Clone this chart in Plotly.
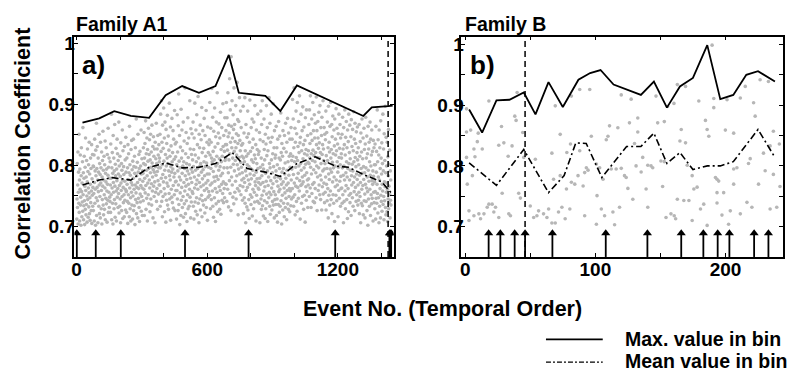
import numpy as np
import plotly.graph_objects as go

# ---------------- Family A1 ----------------
# correlation coefficient x1000 for each event, one row per bin of 76 events
A1_CC_ROWS = [
    "712 745 803 731 768 822 704 756 789 738 851 723 776 709 794 761 817 735 748 702 783 829 757 716 771 740 806 725 862 752 788 711 734 779 815 742 703 766 797 728 845 759 719 781 736 808 750 707 773 827 744 790 715 763 801 732 755 838 721 786 747 710 769 812 739 795 726 758 834 705 778 751 818 733 764 799",
    "726 798 754 817 709 772 843 738 791 761 702 825 783 747 869 718 795 764 831 742 776 706 812 757 789 733 851 768 721 803 749 785 714 838 771 796 729 759 822 704 781 744 808 766 856 735 792 719 776 815 752 728 801 763 840 711 787 746 773 829 737 794 758 707 818 769 743 784 861 723 797 756 812 731 779 748",
    "741 806 768 723 835 779 752 884 711 796 763 821 738 787 704 849 772 756 812 729 791 744 867 766 715 802 783 737 828 758 709 794 775 843 748 819 762 731 808 786 754 871 722 799 767 733 815 745 782 706 837 771 759 803 726 792 749 858 776 713 824 764 739 798 785 752 716 831 774 743 809 761 727 846 789 757",
    "758 723 812 769 741 796 705 834 777 752 819 738 788 716 864 763 801 729 784 747 709 826 772 756 841 735 793 768 712 807 750 779 843 726 798 761 734 815 787 703 768 829 744 797 755 876 721 783 764 739 805 772 714 851 789 746 762 818 731 795 708 777 823 753 740 799 767 858 725 786 749 811 763 718 791 774",
    "787 742 829 803 761 854 718 812 779 836 755 801 873 767 728 819 792 746 845 783 709 826 771 807 752 861 795 737 818 776 842 763 724 809 788 851 745 797 822 770 735 866 804 758 781 831 714 793 847 766 815 749 789 827 773 706 838 798 756 811 784 869 741 803 762 827 790 728 849 775 817 753 796 834 768 806",
    "812 768 851 733 796 884 757 823 779 906 741 838 801 716 866 785 749 828 773 894 807 762 845 724 792 871 753 818 780 707 859 799 743 836 771 812 882 735 803 766 848 728 791 825 754 902 783 745 815 776 863 710 798 832 761 789 748 877 806 739 821 794 857 767 730 843 781 810 752 890 787 726 835 773 814 759",
    "774 838 712 801 759 883 745 822 791 726 865 768 917 736 807 781 849 703 796 755 830 776 718 892 743 812 764 858 787 731 824 799 749 871 715 806 772 840 737 795 758 927 783 721 819 766 854 742 803 777 708 836 791 752 878 729 813 769 845 786 733 801 761 906 748 827 779 714 860 794 740 818 772 852 757 789",
    "809 754 871 733 798 826 712 845 781 763 902 740 817 792 725 858 769 806 747 883 776 719 834 795 761 913 738 812 784 706 851 772 829 745 799 866 727 803 765 842 789 751 895 716 821 778 742 857 793 768 735 828 806 877 759 783 722 849 798 744 815 771 890 731 804 762 838 786 710 863 775 748 821 797 757 834",
    "786 842 751 903 817 768 729 861 795 838 744 812 926 771 806 758 879 733 823 790 715 856 781 809 747 894 774 830 762 708 847 799 737 871 782 815 756 919 803 724 836 777 853 741 792 868 765 811 728 845 798 759 887 783 720 826 806 769 862 743 815 787 754 901 831 773 739 849 796 762 823 747 878 808 770 834",
    "812 857 769 903 834 741 878 796 825 761 919 847 788 732 866 809 853 775 942 819 754 891 838 797 726 978 864 781 829 906 768 845 812 748 883 802 859 737 927 823 791 867 756 839 808 774 898 829 745 852 817 783 936 801 762 875 836 719 849 794 872 813 758 911 786 841 767 824 889 805 752 862 797 833 776 815",
    "788 743 836 765 897 721 812 779 853 747 806 772 911 738 824 791 706 867 759 815 783 732 846 801 764 889 727 819 776 852 744 798 713 838 769 907 786 752 823 795 736 862 778 809 748 876 717 829 792 761 843 805 729 871 784 756 817 740 898 773 811 767 834 709 789 858 751 803 778 826 741 884 795 763 818 772",
    "761 823 738 854 779 706 842 797 769 889 745 812 728 867 783 751 906 734 801 772 839 717 794 758 876 826 742 809 765 713 851 787 729 835 774 898 753 816 739 862 791 708 824 767 845 781 747 911 756 803 733 869 796 720 838 775 752 884 809 763 727 846 788 741 819 770 901 735 798 757 829 714 857 780 744 812",
    "752 817 736 791 864 718 774 829 745 801 707 843 766 781 736 872 757 812 723 795 848 761 733 809 778 886 742 821 769 704 836 789 751 815 727 857 773 795 738 828 763 716 849 786 755 804 731 869 779 746 822 768 711 838 792 759 877 737 806 771 728 853 784 749 815 762 724 843 797 758 819 734 862 776 745 808",
    "794 843 762 908 815 748 876 785 733 829 927 771 806 752 861 719 838 797 766 889 813 741 852 779 725 903 808 764 831 787 746 872 799 821 758 914 775 837 712 846 803 767 884 792 738 824 769 857 781 749 896 811 773 834 728 863 796 751 819 784 841 707 878 802 765 826 743 891 788 757 817 776 849 731 805 768",
    "824 778 867 803 749 891 812 836 763 914 797 852 731 819 786 876 754 841 808 769 903 825 741 857 793 816 772 883 739 845 806 762 869 821 788 747 912 834 799 857 726 813 781 872 845 759 828 796 887 768 837 812 752 898 784 821 744 862 803 776 849 727 879 818 765 834 791 906 753 827 808 771 862 794 739 851",
    "803 756 842 781 889 727 816 769 854 795 742 871 808 762 829 714 897 786 751 838 777 822 735 864 794 758 903 812 744 826 789 867 721 847 805 773 881 752 819 796 738 858 781 832 708 876 799 765 843 817 751 893 776 824 742 861 806 768 835 789 716 852 797 759 884 813 746 828 774 867 801 733 845 782 762 819",
    "812 763 851 738 796 879 752 827 784 706 862 799 741 834 776 891 758 817 729 846 788 767 872 806 744 829 781 713 858 795 762 839 724 884 803 751 821 776 866 739 811 792 754 847 718 875 783 768 831 802 747 859 791 733 824 772 888 806 757 843 781 726 869 813 764 836 798 741 855 786 752 821 777 863 809 735",
    "768 829 743 801 756 867 721 784 815 749 839 772 706 853 795 738 822 761 876 787 734 811 767 845 719 798 777 861 742 826 788 753 714 835 769 879 796 741 812 763 848 726 781 819 757 702 864 792 745 827 774 838 733 806 761 871 784 718 843 799 752 817 737 858 775 746 823 769 791 709 841 782 756 829 739 801",
    "773 729 835 757 801 712 864 746 789 823 738 769 891 754 806 722 842 781 747 817 706 858 776 733 829 762 795 714 873 751 812 741 786 837 725 769 803 758 884 736 791 827 749 711 852 773 742 808 765 897 731 788 719 846 756 799 771 724 838 761 708 814 745 783 859 729 766 802 738 825 752 714 791 743 776 735",
]

# maximum and mean value in each bin
A1_MAX_X = [27, 104, 173, 249, 333, 409, 485, 562, 638, 699, 745, 821, 867, 936, 1012, 1317, 1356, 1432, 1452]
A1_MAX = [0.870, 0.877, 0.889, 0.881, 0.878, 0.915, 0.930, 0.919, 0.930, 0.981,
          0.919, 0.916, 0.914, 0.889, 0.931, 0.881, 0.895, 0.897, 0.898]
A1_MEAN_X = [27, 104, 165, 249, 333, 409, 485, 562, 638, 715, 783, 867, 936, 1012,
             1096, 1188, 1249, 1325, 1402, 1440, 1452]
A1_MEAN = [0.768, 0.776, 0.780, 0.776, 0.797, 0.804, 0.796, 0.797, 0.803, 0.821,
           0.795, 0.789, 0.782, 0.803, 0.814, 0.799, 0.797, 0.784, 0.773, 0.757, 0.752]
A1_ARROWS = [1, 88, 203, 498, 790, 1188, 1437, 1441, 1445]
A1_DASH = 1431
A1_PEAK = 702

# ---------------- Family B ----------------
B_X = [1, 18.2, 39.9, 38.1, 39.1, 1, 4.2, 10.0, 27.9, 44.2, 9.3, 29.7, 36.0, 6.7, 13.1, 25.8, 1, 7.5, 33.0, 45.0,
       69.2, 73.0, 66.6, 53.9, 5.5, 1.6, 28.4, 41.1, 42.4, 67.9, 18.2, 20.7, 16.9, 23.3, 22.0, 2.9, 6.7, 10.5, 14.4, 25.8,
       33.5, 34.8, 50.0, 56.4, 55.1, 60.2, 62.8, 66.6, 69.2, 71.7, 74.3, 76.8, 64.1, 11.8, 2.9, 52.6, 73.0, 78.1,
       88.0, 95.7, 81.6, 119.9, 127.5, 146.6, 155.5, 132.6, 126.2, 110.9, 117.3, 96.9, 109.7, 108.4, 130.1, 132.6,
       147.9, 153.0, 80.9, 88.0, 93.1, 94.4, 91.8, 86.7, 81.6, 84.2, 90.6, 100.8, 103.3, 105.9, 112.2, 116.0, 119.9,
       122.4, 123.7, 136.4, 140.3, 142.8, 144.1, 131.3, 150.4, 153.0, 135.2, 77.8, 101.3, 125.0, 139.0, 128.8, 151.7,
       80.4, 91.8, 104.6, 107.1, 113.5, 118.6, 100.8, 114.8, 154.3, 158.1, 160.6, 140.3,
       189.7, 163.0, 169.3, 215.2, 160.4, 179.5, 191.0, 201.2, 211.4, 226.6, 233.0, 221.6, 222.8, 191.0, 184.6,
       185.9, 187.2, 166.0, 199.9, 206.3, 236.8, 241.4, 165.0, 169.3, 229.2, 234.3, 170.6, 174.4, 175.7, 178.2,
       192.3, 193.5, 194.8, 206.3, 208.8, 206.3, 193.5, 198.6, 219.0, 217.7, 225.4, 230.5, 236.8, 241.9, 163.0,
       168.0, 171.9, 180.8, 183.3, 193.5, 197.3, 203.7, 211.4, 216.5, 220.3, 234.3, 239.4, 161.7, 174.4, 185.9, 202.4]
B_CC = [0.894, 0.907, 0.921, 0.882, 0.875, 0.856, 0.859, 0.854, 0.865, 0.855, 0.840, 0.838, 0.833, 0.828, 0.828, 0.834, 0.814, 0.815, 0.816, 0.814,
        0.899, 0.852, 0.821, 0.811, 0.784, 0.770, 0.755, 0.755, 0.747, 0.778, 0.737, 0.737, 0.732, 0.732, 0.724, 0.726, 0.718, 0.721, 0.721, 0.715,
        0.721, 0.718, 0.734, 0.726, 0.718, 0.721, 0.715, 0.706, 0.706, 0.724, 0.732, 0.713, 0.729, 0.713, 0.710, 0.715, 0.784, 0.822,
        0.926, 0.926, 0.915, 0.917, 0.910, 0.915, 0.898, 0.879, 0.871, 0.866, 0.863, 0.849, 0.849, 0.843, 0.837, 0.856,
        0.871, 0.873, 0.836, 0.825, 0.797, 0.793, 0.789, 0.784, 0.773, 0.770, 0.767, 0.803, 0.797, 0.778, 0.795, 0.795, 0.796,
        0.784, 0.781, 0.814, 0.801, 0.800, 0.797, 0.800, 0.808, 0.807, 0.790, 0.762, 0.751, 0.763, 0.762, 0.745, 0.766,
        0.729, 0.718, 0.729, 0.718, 0.724, 0.732, 0.704, 0.703, 0.715, 0.721, 0.718, 0.732,
        0.999, 0.934, 0.931, 0.931, 0.903, 0.907, 0.911, 0.909, 0.912, 0.942, 0.939, 0.904, 0.882, 0.896, 0.875,
        0.860, 0.849, 0.860, 0.859, 0.854, 0.857, 0.836, 0.841, 0.838, 0.821, 0.833, 0.801, 0.784, 0.762, 0.765,
        0.781, 0.778, 0.775, 0.795, 0.797, 0.770, 0.756, 0.756, 0.812, 0.804, 0.770, 0.792, 0.786, 0.766, 0.745,
        0.743, 0.743, 0.729, 0.737, 0.739, 0.719, 0.726, 0.721, 0.740, 0.732, 0.729, 0.732, 0.713, 0.710, 0.702, 0.704]

B_MAX_X = [3, 13, 24, 34, 45, 54, 64, 75, 87, 96, 104, 114, 135, 145, 155, 165, 175, 186, 196, 206, 216, 225, 238]
B_MAX = [0.893, 0.855, 0.908, 0.909, 0.921, 0.885, 0.938, 0.897, 0.942, 0.953, 0.958, 0.934,
         0.917, 0.939, 0.896, 0.931, 0.945, 0.999, 0.910, 0.917, 0.950, 0.956, 0.939]
B_MEAN_X = [3, 24, 45, 64, 76, 85, 93, 105, 124, 135, 145, 155, 165, 175, 186, 196, 206, 225, 238]
B_MEAN = [0.805, 0.768, 0.827, 0.756, 0.784, 0.838, 0.837, 0.781, 0.832, 0.832,
          0.854, 0.804, 0.822, 0.794, 0.800, 0.800, 0.807, 0.860, 0.814]
B_ARROWS = [18, 27, 38, 46, 67, 108, 140, 166, 183, 194, 203, 222, 233]
B_DASH = 46
B_PEAK = 189

# ---------------- styling ----------------
FONT = "Liberation Sans, Arial, Helvetica, sans-serif"
DOT = "#b6b6b6"
Y_LO = 0.65
ARROW_TOP = 0.689

a1_cc = np.array([int(v) for row in A1_CC_ROWS for v in row.split()]) / 1000.0
a1_events = np.arange(1, len(a1_cc) + 1)

fig = go.Figure()


def add_panel(xs, ys, max_x, max_y, mean_x, mean_y, arrows, dash_x, peak_x, xa, ya):
    fig.add_trace(go.Scatter(x=xs, y=ys, mode="markers", xaxis=xa, yaxis=ya,
                             marker=dict(size=3.6, color=DOT, line=dict(width=0)),
                             showlegend=False, hoverinfo="skip"))
    fig.add_trace(go.Scatter(x=mean_x, y=mean_y, mode="lines", xaxis=xa, yaxis=ya,
                             line=dict(color="black", width=1.6, dash="7px,3px,2px,3px"),
                             showlegend=False))
    fig.add_trace(go.Scatter(x=max_x, y=max_y, mode="lines", xaxis=xa, yaxis=ya,
                             line=dict(color="black", width=1.8), showlegend=False))
    fig.add_trace(go.Scatter(x=[dash_x, dash_x], y=[Y_LO, 1.03], mode="lines", xaxis=xa, yaxis=ya,
                             line=dict(color="black", width=1.5, dash="6px,4px"), showlegend=False))
    # arrows: shafts and heads
    sx, sy = [], []
    for a in arrows:
        sx += [a, a, None]
        sy += [Y_LO, ARROW_TOP, None]
    fig.add_trace(go.Scatter(x=sx, y=sy, mode="lines", xaxis=xa, yaxis=ya,
                             line=dict(color="black", width=1.8), showlegend=False))
    fig.add_trace(go.Scatter(x=arrows, y=[ARROW_TOP] * len(arrows), mode="markers", xaxis=xa, yaxis=ya,
                             marker=dict(symbol="triangle-up", size=8, color="black", line=dict(width=0)),
                             showlegend=False))
    fig.add_trace(go.Scatter(x=[peak_x], y=[1.025], mode="markers", xaxis=xa, yaxis=ya, cliponaxis=False,
                             marker=dict(symbol="triangle-down", size=11, color="#a6a6a6",
                                         line=dict(color="black", width=1.3)),
                             showlegend=False))


add_panel(a1_events, a1_cc, A1_MAX_X, A1_MAX, A1_MEAN_X, A1_MEAN, A1_ARROWS, A1_DASH, A1_PEAK, "x", "y")
add_panel(B_X, B_CC, B_MAX_X, B_MAX, B_MEAN_X, B_MEAN, B_ARROWS, B_DASH, B_PEAK, "x2", "y2")

tickfont = dict(family=FONT, size=19, color="black", weight="bold")
y_vals = [0.7, 0.75, 0.8, 0.85, 0.9, 0.95, 1.0]
y_text = ["0.7", "", "0.8", "", "0.9", "", "1"]
common_axis = dict(showline=True, linecolor="black", linewidth=1.5, mirror="ticks",
                   ticks="inside", ticklen=4, tickwidth=1.2, tickcolor="black",
                   showgrid=False, zeroline=False, tickfont=tickfont)

y_dom = [0.3126, 0.9113]
fig.update_layout(
    width=802, height=372, margin=dict(l=0, r=0, t=0, b=0),
    paper_bgcolor="white", plot_bgcolor="white",
    xaxis=dict(domain=[0.0894, 0.4888], range=[-10, 1456], anchor="y",
               tickvals=list(range(0, 1401, 200)), ticklabelstandoff=-6,
               ticktext=["0", "", "", "600", "", "", "1200", ""], **common_axis),
    yaxis=dict(domain=y_dom, range=[Y_LO, 1.011], anchor="x", ticklabelstandoff=-6,
               tickvals=y_vals, ticktext=y_text, **common_axis),
    xaxis2=dict(domain=[0.5736, 0.9759], range=[-3, 244], anchor="y2",
                tickvals=[0, 50, 100, 150, 200], ticklabelstandoff=-6,
                ticktext=["0", "", "100", "", "200"], **common_axis),
    yaxis2=dict(domain=y_dom, range=[Y_LO, 1.013], anchor="x2", ticklabelstandoff=-8,
                tickvals=y_vals, ticktext=y_text, **common_axis),
)

# text labels
def label(text, x, y, size, xanchor="center", angle=0):
    fig.add_annotation(text=f"<b>{text}</b>", xref="paper", yref="paper", x=x, y=y,
                       xanchor=xanchor, yanchor="middle", showarrow=False, textangle=angle,
                       font=dict(family=FONT, size=size, color="black"))

label("Family A1", 71 / 802, 1 - 20 / 372, 19.5, "left")
label("Family B", 462 / 802, 1 - 20 / 372, 19.5, "left")
label("a)", 77 / 802, 1 - 62 / 372, 26, "left")
label("b)", 467 / 802, 1 - 62 / 372, 26, "left")
label("Correlation Coefficient", 21 / 802, 1 - 141 / 372, 21.5, angle=-90)
label("Event No. (Temporal Order)", 441 / 802, 1 - 308 / 372, 21.5)
label("Max. value in bin", 622 / 802, 1 - 339 / 372, 19.5, "left")
label("Mean value in bin", 622 / 802, 1 - 361 / 372, 19.5, "left")

# legend line samples
fig.add_shape(type="line", xref="paper", yref="paper", x0=545 / 802, x1=602 / 802,
              y0=1 - 339 / 372, y1=1 - 339 / 372, line=dict(color="black", width=1.8))
fig.add_shape(type="line", xref="paper", yref="paper", x0=545 / 802, x1=602 / 802,
              y0=1 - 362 / 372, y1=1 - 362 / 372,
              line=dict(color="black", width=1.4, dash="5px,2px,2px,2px"))

fig.write_html("out.html")
